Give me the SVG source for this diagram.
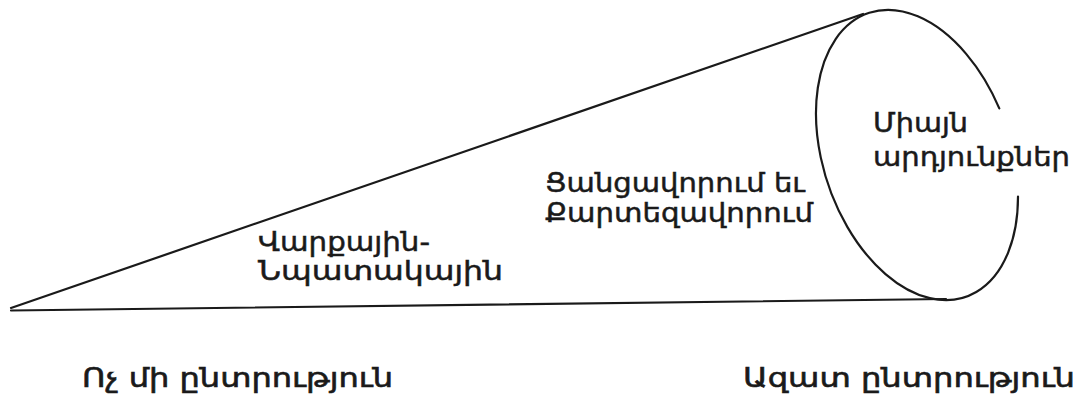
<svg xmlns="http://www.w3.org/2000/svg" width="1084" height="401" viewBox="0 0 1084 401">
<style>
.ln{fill:none;stroke:#1a1a1a;stroke-width:2.2;stroke-linecap:round;stroke-linejoin:round}
.t{font-family:"DejaVu Sans","Noto Sans",sans-serif;font-size:27px;fill:#1a1a1a;stroke:#1a1a1a;stroke-width:0.5}
.b{font-family:"DejaVu Sans","Noto Sans",sans-serif;font-size:26px;fill:#1a1a1a;stroke:#1a1a1a;stroke-width:0.6}
</style>
<rect width="1084" height="401" fill="#fff"/>
<g id="connectors">
<path class="ln" d="M11,308 L863,14"/>
<path class="ln" d="M11,310.5 L946,299"/>
</g>
<g id="ellipse-end">
<path class="ln" d="M999.3,108.4 A150 93.6 71.1 1 0 1018,196.6"/>
<text class="t" x="873" y="132" textLength="95" lengthAdjust="spacingAndGlyphs">Միայն</text>
<text class="t" x="873" y="166" textLength="197" lengthAdjust="spacingAndGlyphs">արդյունքներ</text>
</g>
<g id="middle">
<text class="t" x="545" y="192" textLength="260" lengthAdjust="spacingAndGlyphs">Ցանցավորում եւ</text>
<text class="t" x="545" y="222" textLength="268" lengthAdjust="spacingAndGlyphs">Քարտեզավորում</text>
</g>
<g id="left">
<text class="t" x="258" y="251" textLength="172" lengthAdjust="spacingAndGlyphs">Վարքային-</text>
<text class="t" x="258" y="280" textLength="245" lengthAdjust="spacingAndGlyphs">Նպատակային</text>
</g>
<g id="bottom-left">
<text class="b" x="82" y="387" textLength="311" lengthAdjust="spacingAndGlyphs">Ոչ մի ընտրություն</text>
</g>
<g id="bottom-right">
<text class="b" x="743" y="387" textLength="332" lengthAdjust="spacingAndGlyphs">Ազատ ընտրություն</text>
</g>
</svg>
